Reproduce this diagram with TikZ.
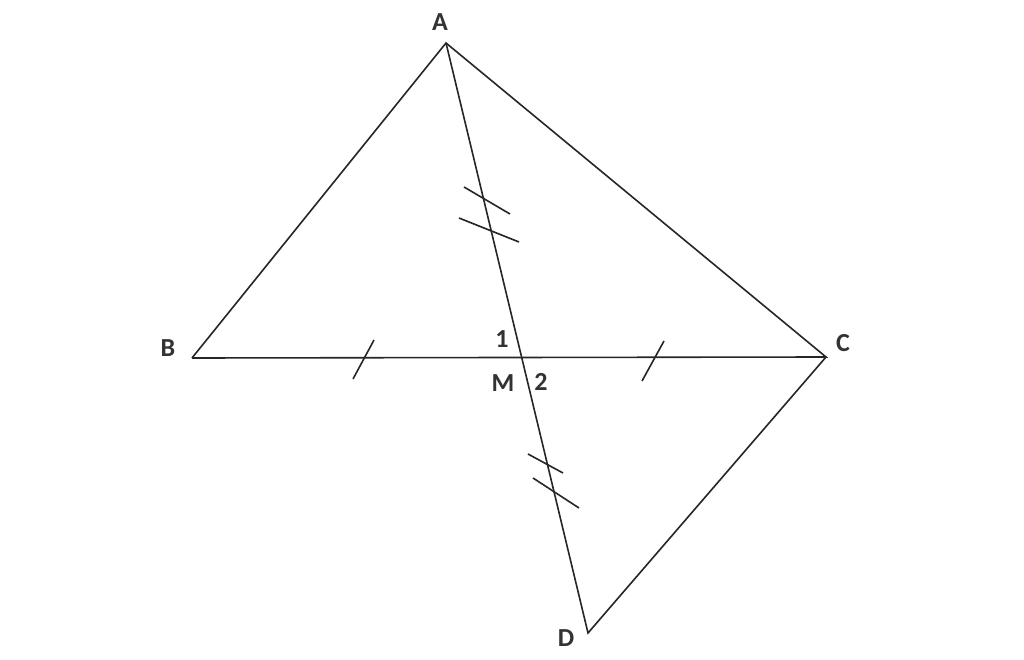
\documentclass[tikz,border=0pt]{standalone}
\usepackage{fontspec}
\setmainfont{Carlito}
\begin{document}
\begin{tikzpicture}[x=1pt,y=-1pt,
  seg/.style={line width=1.6pt,color=black!85},
  tick/.style={line width=1.6pt,color=black!85},
  lbl/.style={font=\fontsize{26}{26}\selectfont\bfseries,text=black!80,inner sep=0pt}]
\useasboundingbox[fill=white] (0,0) rectangle (1024,660);
\coordinate (A) at (446,43);
\coordinate (B) at (192,358);
\coordinate (C) at (826,357);
\coordinate (D) at (588,633);
\coordinate (M) at (520,357);
\draw[seg] (B) -- (A) -- (C) -- (B);
\draw[seg] (A) -- (D) -- (C);
% ticks
\coordinate (t1a) at (464,187); \coordinate (t1b) at (510,214);
\coordinate (t2a) at (459,218); \coordinate (t2b) at (519,242);
\coordinate (t3a) at (528,454); \coordinate (t3b) at (563,473);
\coordinate (t4a) at (533,478); \coordinate (t4b) at (579,508);
\coordinate (t5a) at (353,379); \coordinate (t5b) at (374,340);
\coordinate (t6a) at (642,381); \coordinate (t6b) at (664,341);
\draw[tick] (t1a) -- (t1b);
\draw[tick] (t2a) -- (t2b);
\draw[tick] (t3a) -- (t3b);
\draw[tick] (t4a) -- (t4b);
\draw[tick] (t5a) -- (t5b);
\draw[tick] (t6a) -- (t6b);
\node[lbl] (lA) at (440,22) {A};
\node[lbl] (lB) at (168,348) {B};
\node[lbl] (lC) at (843,343) {C};
\node[lbl] (lM) at (503,383) {M};
\node[lbl] (l1) at (502,339) {1};
\node[lbl] (l2) at (541,382) {2};
\node[lbl] (lD) at (566,638) {D};
\end{tikzpicture}
\end{document}
